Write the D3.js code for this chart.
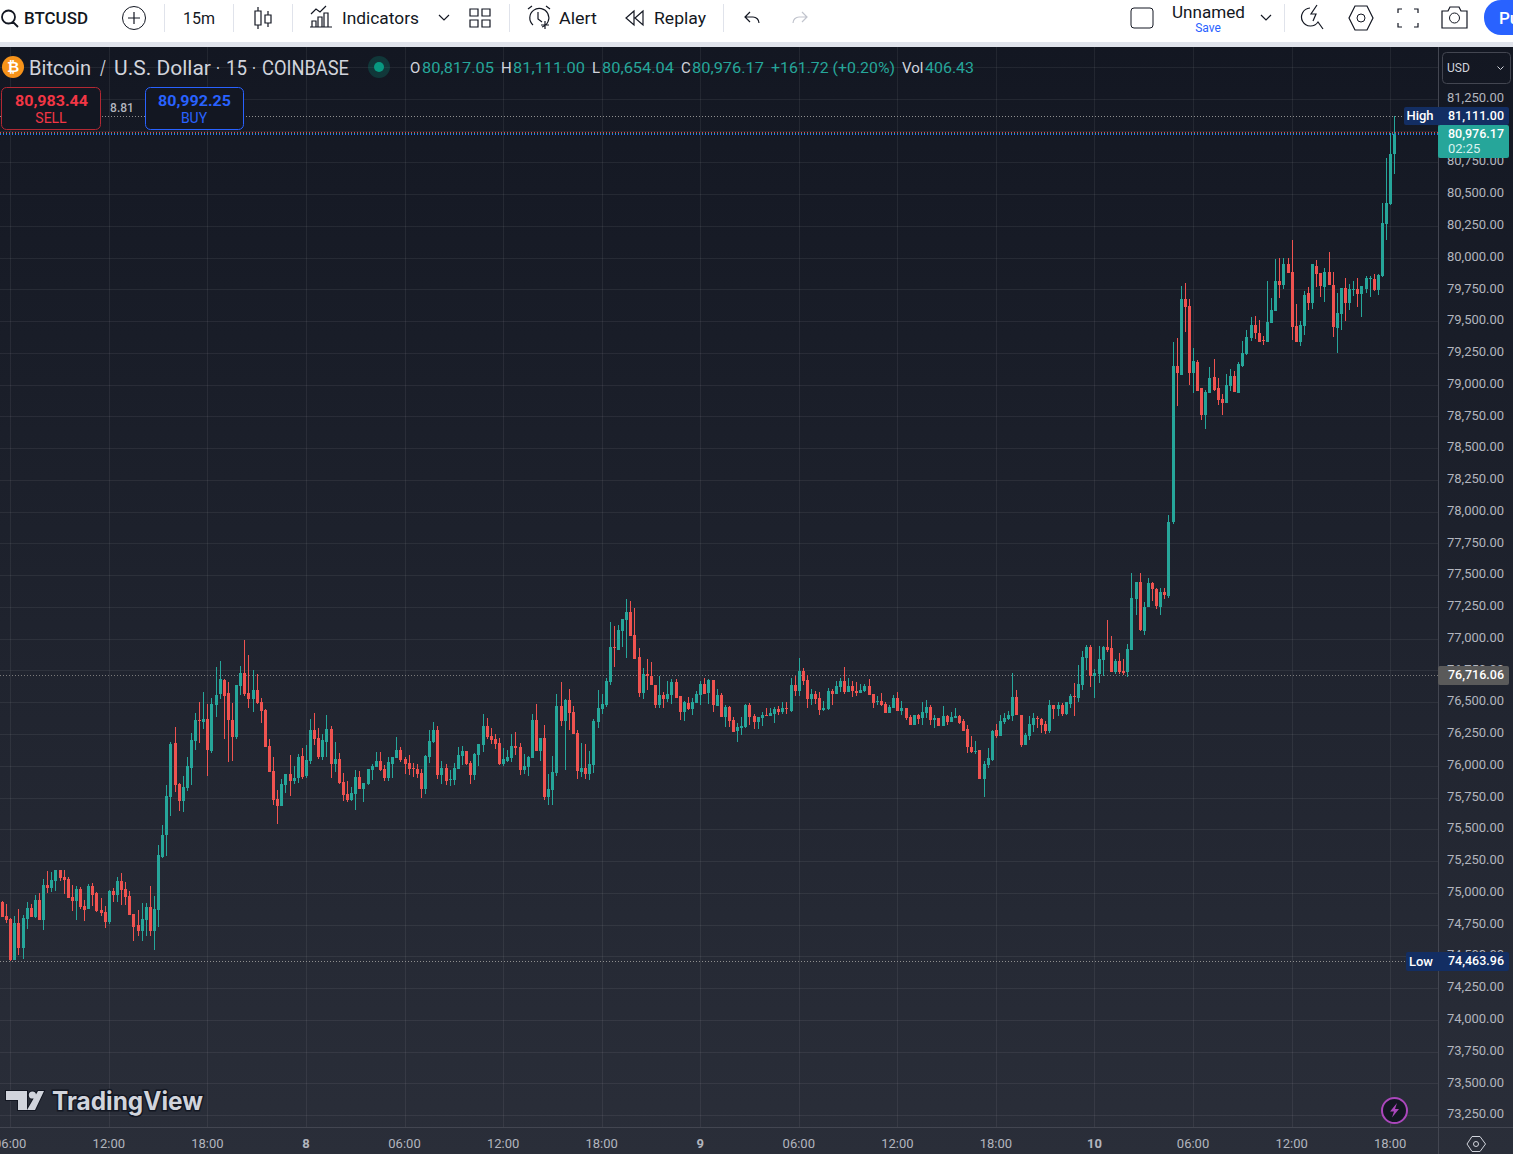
<!DOCTYPE html>
<html>
<head>
<meta charset="utf-8">
<title>BTCUSD 15m</title>
<script src="https://cdnjs.cloudflare.com/ajax/libs/d3/7.8.5/d3.min.js"></script>
<style>
  body { margin: 0; background: #fff; overflow: hidden; }
  text { font-family: Roboto, sans-serif; }
</style>
</head>
<body>
<script>
// candles, 15 minutes each, first one is 05:30
var opens = [74927,74817,74793,74473,74762,74565,74793,74880,74809,74943,
74785,75061,75037,75092,75179,75124,75108,74966,74935,75029,
74895,74872,75053,74998,74864,74848,74770,75014,74982,75092,
75029,74974,74832,74746,74699,74785,74888,74699,74864,75281,
75454,75754,76179,75856,75722,75824,75982,76194,76360,76344,
76368,76116,76478,76564,76675,76572,76360,76226,76627,76730,
76572,76525,76596,76501,76438,76155,75958,75738,75683,75848,
75935,75879,75903,76076,75919,76037,76281,76218,76068,76186,
76289,76013,76053,75872,75777,75730,75777,75911,75816,75856,
75966,75990,76037,75974,75903,76013,76061,76123,76053,76021,
75982,75974,75942,75816,76068,76186,76281,75927,75982,75887,
75887,75974,76076,76116,76021,75927,76084,76163,76312,76234,
76210,76179,76013,76037,76061,76155,76147,75966,75990,76061,
76360,76116,76218,75753,75809,75942,76470,76352,76517,76423,
76257,75950,75982,75935,76005,76344,76446,76478,76659,76934,
76911,77060,77147,77210,77029,76856,76572,76722,76706,76635,
76478,76556,76525,76556,76659,76549,76423,76493,76446,76493,
76556,76643,76572,76675,76470,76556,76383,76462,76360,76273,
76297,76305,76478,76391,76344,76375,76399,76391,76407,76446,
76423,76454,76430,76635,76588,76745,76675,76525,76564,76533,
76438,76446,76588,76564,76619,76667,76580,76627,76588,76572,
76588,76627,76564,76501,76509,76485,76415,76454,76533,76430,
76454,76383,76320,76399,76375,76415,76462,76359,76375,76312,
76391,76344,76375,76391,76352,76289,76147,76108,76123,75895,
76005,76045,76281,76234,76344,76367,76391,76541,76399,76163,
76234,76320,76375,76367,76328,76273,76478,76446,76478,76407,
76485,76548,76533,76635,76848,76934,76706,76722,76832,76934,
76926,76737,76824,76745,76737,76911,77312,77446,77060,77249,
77438,77391,77249,77367,77336,77918,79146,79075,79673,79618,
79091,79178,78973,78760,78934,79059,78973,78886,78855,78989,
79067,78934,79146,79240,79366,79469,79406,79351,79335,79485,
79579,79815,79784,79949,79886,79461,79335,79461,79721,79642,
79933,79878,79768,79886,79784,79445,79555,79760,79642,79744,
79752,79713,79752,79831,79831,79744,79855,80264,80421,80817.05];

var highs = [74935,74911,74801,74817,74872,74825,74927,74911,74982,74998,
75108,75171,75163,75179,75179,75179,75124,75061,75053,75045,
74943,75069,75077,75006,74958,74895,75021,75037,75124,75155,
75084,75014,74832,74864,74919,74919,75053,74974,75376,75533,
75848,76187,76305,75864,75919,76068,76257,76415,76501,76580,
76486,76533,76777,76824,76682,76659,76494,76635,76785,76989,
76871,76753,76722,76533,76446,76210,76068,75809,75895,75935,
76084,75998,76092,76139,76163,76368,76415,76297,76249,76399,
76312,76186,76100,75942,75879,75832,75966,75958,75864,75974,
76013,76108,76108,76005,76068,76068,76226,76147,76068,76084,
76021,76013,75974,76084,76281,76344,76312,76037,76013,75966,
76021,76147,76155,76116,76037,76100,76171,76407,76375,76297,
76249,76218,76139,76123,76249,76265,76179,76092,76076,76407,
76486,76218,76320,75935,76076,76564,76659,76525,76604,76470,
76281,76179,76171,76116,76368,76596,76564,76690,77131,77100,
77107,77155,77312,77296,77241,76926,76769,76840,76816,76635,
76706,76580,76667,76682,76682,76549,76509,76541,76533,76588,
76667,76690,76682,76675,76604,76572,76478,76470,76383,76336,
76383,76486,76493,76407,76383,76423,76454,76454,76462,76470,
76501,76501,76690,76706,76848,76769,76714,76604,76588,76580,
76509,76612,76604,76667,76690,76777,76690,76667,76659,76643,
76643,76682,76564,76548,76572,76501,76478,76556,76580,76509,
76454,76399,76399,76407,76501,76517,76478,76399,76375,76470,
76399,76422,76454,76399,76367,76320,76234,76194,76123,76037,
76139,76281,76328,76399,76415,76430,76729,76596,76399,76257,
76391,76415,76391,76375,76352,76517,76478,76501,76493,76501,
76564,76651,76792,76903,76950,76950,76761,76942,76942,77147,
77021,76840,76887,76840,76958,77517,77446,77517,77288,77477,
77446,77399,77399,77399,77972,79335,79366,79776,79799,79673,
79288,79193,78973,78957,79138,79201,79052,78926,79083,79122,
79107,79178,79343,79429,79532,79540,79508,79382,79815,79681,
79988,79996,79996,79996,80138,79634,79500,79736,79768,79949,
79980,79878,79918,80043,79886,79721,79760,79839,79792,79815,
79839,79776,79855,79855,79870,79870,80429,80783,80980,81111];

var lows = [74812,74764,74464,74473,74510,74481,74714,74809,74801,74785,
74707,74998,75006,75014,75092,74990,74958,74856,74785,74872,
74777,74872,74895,74848,74817,74722,74754,74927,74927,74903,
74903,74825,74620,74659,74620,74659,74659,74549,74730,75273,
75289,75604,75793,75643,75635,75801,75848,76124,76179,76289,
75919,76100,76383,76525,76210,76029,76037,76210,76556,76549,
76454,76423,76486,76336,76147,75950,75691,75541,75683,75785,
75761,75856,75864,75895,75903,76013,76163,76053,76045,76068,
75903,75950,75856,75722,75714,75722,75651,75816,75714,75848,
75887,75990,75958,75879,75879,75903,76061,76029,75935,75927,
75911,75903,75746,75777,76021,76179,75895,75856,75848,75840,
75848,75974,76005,76005,75856,75887,75998,76108,76210,76171,
76131,76005,75998,76029,76029,76084,75927,75935,75919,76061,
76116,76037,75730,75691,75691,75919,76312,75966,76281,76249,
75895,75911,75895,75887,75942,76297,76407,76462,76635,76777,
76911,76934,76848,77021,76840,76541,76525,76596,76635,76454,
76454,76454,76501,76486,76533,76360,76352,76438,76399,76493,
76478,76564,76486,76423,76470,76383,76305,76305,76265,76186,
76242,76297,76320,76289,76289,76312,76391,76391,76336,76399,
76407,76407,76423,76549,76549,76635,76454,76478,76486,76399,
76430,76438,76478,76564,76580,76564,76580,76541,76549,76572,
76580,76556,76454,76478,76470,76415,76415,76454,76430,76399,
76359,76320,76320,76328,76320,76375,76320,76297,76312,76312,
76320,76344,76375,76328,76273,76100,76100,76092,75895,75753,
75982,76037,76218,76234,76328,76359,76352,76399,76147,76163,
76202,76265,76297,76257,76249,76257,76367,76391,76391,76399,
76454,76391,76501,76596,76753,76619,76533,76651,76706,76895,
76737,76722,76722,76714,76698,76911,77186,77060,77029,77249,
77296,77233,77186,77312,77320,77900,78831,79075,79414,78996,
78934,78949,78721,78650,78934,78949,78839,78760,78855,78949,
78941,78934,79138,79233,79343,79359,79335,79311,79335,79485,
79579,79681,79752,79878,79351,79335,79303,79390,79587,79595,
79768,79689,79650,79784,79374,79248,79429,79500,79587,79697,
79610,79532,79721,79689,79736,79705,79847,80138,80413,80654.04];

var closes = [74812,74785,74470,74762,74565,74801,74880,74809,74943,74785,
75061,75037,75100,75179,75116,75100,74958,74935,75029,74888,
74864,75053,74982,74856,74840,74770,75014,74982,75092,75021,
74966,74825,74730,74699,74793,74888,74699,74872,75297,75454,
75761,76171,75848,75722,75832,75998,76202,76360,76352,76368,
76124,76486,76556,76682,76549,76360,76226,76635,76730,76564,
76525,76596,76494,76431,76147,75950,75730,75683,75856,75935,
75879,75903,76068,75911,76045,76281,76210,76068,76202,76289,
76013,76053,75864,75769,75730,75785,75911,75816,75864,75974,
75998,76037,75966,75903,76029,76068,76123,76045,76013,75974,
75974,75935,75816,76076,76194,76281,75927,75982,75879,75895,
75982,76084,76116,76013,75927,76092,76171,76312,76226,76202,
76171,76013,76053,76068,76155,76139,75966,75998,76068,76360,
76116,76218,75753,75816,75950,76470,76352,76517,76415,76249,
75958,75982,75935,76013,76352,76454,76486,76667,76934,76926,
77068,77155,77210,77021,76842,76572,76722,76706,76635,76478,
76556,76525,76564,76659,76533,76423,76501,76446,76501,76564,
76643,76564,76675,76478,76556,76383,76462,76352,76265,76305,
76312,76478,76383,76344,76383,76399,76391,76415,76446,76423,
76454,76446,76635,76588,76745,76667,76525,76564,76525,76438,
76454,76588,76564,76627,76667,76580,76627,76588,76572,76596,
76627,76556,76493,76509,76478,76415,76462,76533,76430,76454,
76375,76320,76399,76367,76422,76462,76359,76375,76312,76391,
76344,76383,76391,76336,76273,76147,76108,76115,75895,76013,
76060,76273,76234,76352,76375,76399,76541,76399,76163,76241,
76328,76375,76367,76320,76273,76478,76446,76478,76407,76501,
76548,76541,76643,76855,76934,76706,76729,76840,76934,76911,
76737,76824,76737,76729,76918,77320,77446,77068,77249,77438,
77391,77257,77367,77343,77918,79146,79091,79673,79610,79091,
79185,78949,78760,78941,79052,78957,78878,78855,78996,79067,
78941,79162,79248,79374,79469,79406,79335,79343,79492,79587,
79815,79784,79949,79878,79453,79335,79469,79705,79642,79949,
79870,79776,79886,79784,79453,79563,79760,79642,79752,79752,
79713,79776,79839,79839,79744,79862,80272,80429,80815,80976.17];

var priceTicks = [73250,73500,73750,74000,74250,74500,74750,75000,75250,75500,75750,76000,76250,76500,76750,
  77000,77250,77500,77750,78000,78250,78500,78750,79000,79250,79500,79750,80000,80250,80500,80750,81000,81250];
var timeTicks = [2,26,50,74,98,122,146,170,194,218,242,266,290,314,338];
var timeLabels = ['06:00','12:00','18:00','8','06:00','12:00','18:00','9','06:00','12:00','18:00','10','06:00','12:00','18:00'];

var up = '#26a69a', down = '#ef5350';
var width = 1513, height = 1154;
var plotRight = 1438, plotBottom = 1127;

var svg = d3.select('body').append('svg').attr('width', width).attr('height', height).style('display', 'block');

var x = d3.scaleLinear().domain([0, 339]).range([2.52, 2.52 + 4.107 * 339]);
var y = d3.scaleLinear().domain([74500, 80750]).range([956.3, 162.3]);
var px = function(i){ return Math.floor(x(i)); };
var py = function(v){ return Math.round(y(v)); };

var grad = svg.append('defs').append('linearGradient').attr('id', 'bg').attr('x1', 0).attr('x2', 0).attr('y1', 0).attr('y2', 1);
grad.append('stop').attr('offset', '0%').attr('stop-color', '#131722');
grad.append('stop').attr('offset', '100%').attr('stop-color', '#2a2e39');
svg.append('clipPath').attr('id', 'plot').append('rect').attr('width', plotRight).attr('height', height);

svg.append('rect').attr('y', 47).attr('width', width).attr('height', height - 47).attr('fill', 'url(#bg)');

// grid, comes from the axes ticks
svg.append('g').selectAll('rect').data(priceTicks.concat([81500])).enter().append('rect')
  .attr('x', 0).attr('y', function(d){ return py(d); }).attr('width', plotRight).attr('height', 1)
  .attr('fill', '#f2f2f2').attr('fill-opacity', 0.07);
svg.append('g').selectAll('rect').data(timeTicks).enter().append('rect')
  .attr('x', function(d){ return px(d); }).attr('y', 47).attr('width', 1).attr('height', plotBottom - 47)
  .attr('fill', '#f2f2f2').attr('fill-opacity', 0.07);

// dotted price lines
var dotted = function(price, x0, x1, color, dy){
  svg.append('line').attr('x1', x0).attr('x2', x1)
    .attr('y1', py(price) + 0.5 + (dy || 0)).attr('y2', py(price) + 0.5 + (dy || 0))
    .attr('stroke', color).attr('stroke-dasharray', '1 2');
};
dotted(81111, 0, 1404, '#8f8f8f');
dotted(76716.06, 0, plotRight, '#7a7a7a');
dotted(74463.96, 0, 1406, '#8f8f8f');

// candles
var candles = d3.range(opens.length).map(function(i){
  return { i: i, o: opens[i], h: highs[i], l: lows[i], c: closes[i] };
});
var marks = svg.append('g').attr('clip-path', 'url(#plot)').attr('shape-rendering', 'crispEdges');
var color = function(d){ return d.c >= d.o ? up : down; };
marks.selectAll('.wick').data(candles).enter().append('rect').attr('class', 'wick')
  .attr('x', function(d){ return px(d.i); })
  .attr('y', function(d){ return py(d.h); })
  .attr('width', 1)
  .attr('height', function(d){ return Math.max(1, py(d.l) - py(d.h)); })
  .attr('fill', color);
marks.selectAll('.body').data(candles).enter().append('rect').attr('class', 'body')
  .attr('x', function(d){ return px(d.i) - 1; })
  .attr('y', function(d){ return py(Math.max(d.o, d.c)); })
  .attr('width', 3)
  .attr('height', function(d){ return Math.max(1, py(Math.min(d.o, d.c)) - py(Math.max(d.o, d.c))); })
  .attr('fill', color);

// last price, sell and buy lines sit on top of each other
dotted(80976.17, 0, plotRight, '#f23645', -2);
dotted(80976.17, 0, plotRight, '#26a69a', -1);
dotted(80976.17, 0, plotRight, '#2962ff', 0);

// axis panels
svg.append('rect').attr('x', plotRight).attr('y', 47).attr('width', 1).attr('height', height - 47).attr('fill', '#434651');
svg.append('rect').attr('x', 0).attr('y', plotBottom).attr('width', width).attr('height', 1).attr('fill', '#434651');

var priceAxis = d3.axisRight(y).tickValues(priceTicks).tickSize(0).tickPadding(9).tickFormat(d3.format(',.2f'));
var axR = svg.append('g').attr('transform', 'translate(' + plotRight + ',-1.5)').call(priceAxis);
axR.select('.domain').remove();
axR.selectAll('text').attr('fill', '#b2b5be').style('font-size', '13px').style('font-family', 'Roboto');

var timeAxis = d3.axisBottom(x).tickValues(timeTicks).tickSize(0).tickPadding(12)
  .tickFormat(function(d, i){ return timeLabels[i]; });
var axB = svg.append('g').attr('transform', 'translate(-1,' + plotBottom + ')').call(timeAxis);
axB.select('.domain').remove();
axB.selectAll('text').attr('fill', '#b2b5be').style('font-size', '13px').style('font-family', 'Roboto')
  .style('font-weight', function(d, i){ return timeLabels[i].length < 3 ? 700 : 400; });

// text helper
var label = function(tx, ty, str, size, fill, weight, anchor){
  return svg.append('text').attr('x', tx).attr('y', ty).text(str)
    .attr('font-size', size).attr('fill', fill).attr('font-weight', weight || 400)
    .attr('text-anchor', anchor || 'start');
};
var fit = function(sel, w){ return sel.attr('textLength', w).attr('lengthAdjust', 'spacingAndGlyphs'); };

// tags on the price axis
var tag = function(x0, y0, w, h, fill){
  svg.append('rect').attr('x', x0).attr('y', y0).attr('width', w).attr('height', h).attr('rx', 2).attr('fill', fill);
};
tag(1404, 107, 105, 18, '#132e63');
label(1420, 120, 'High', 13, '#fff', 500, 'middle');
fit(label(1448, 120, '81,111.00', 13, '#fff', 500), 56);
tag(1438, 125, 71, 33, up);
fit(label(1448, 138, '80,976.17', 13, '#fff', 500), 56);
label(1448, 153, '02:25', 13, '#d9f2ef');
tag(1438, 666, 71, 19, '#5a5a5a');
fit(label(1448, 679, '76,716.06', 13, '#fff', 500), 56);
tag(1406, 952, 103, 19, '#132e63');
label(1421, 966, 'Low', 13, '#fff', 500, 'middle');
fit(label(1448, 965, '74,463.96', 13, '#fff', 500), 56);

// legend
svg.append('circle').attr('cx', 13).attr('cy', 67).attr('r', 11).attr('fill', '#f7931a');
label(13, 72, '₿', 15, '#fff', 700, 'middle');
var titleParts = [[29, 'Bitcoin', 62], [100, '/', 6], [114, 'U.S. Dollar', 97], [216, '·', 4], [226, '15', 21], [252, '·', 4], [262, 'COINBASE', 87]];
titleParts.forEach(function(k){ fit(label(k[0], 75, k[1], 21, '#d1d4dc'), k[2]); });
svg.append('circle').attr('cx', 379).attr('cy', 67).attr('r', 11).attr('fill', '#089981').attr('fill-opacity', 0.25);
svg.append('circle').attr('cx', 379).attr('cy', 67).attr('r', 5).attr('fill', '#089981');
var legendKeys = [[410, 'O'], [501, 'H'], [592, 'L'], [681, 'C'], [902, 'Vol']];
legendKeys.forEach(function(k){ label(k[0], 73, k[1], 15, '#d1d4dc'); });
var legendVals = [[422, '80,817.05', 72], [513, '81,111.00', 72], [602, '80,654.04', 72], [692, '80,976.17', 72], [771, '+161.72 (+0.20%)', 124], [925, '406.43', 49]];
legendVals.forEach(function(k){ fit(label(k[0], 73, k[1], 15, up), k[2]); });

// sell / buy
svg.append('rect').attr('x', 1.5).attr('y', 87.5).attr('width', 99).attr('height', 42).attr('rx', 5).attr('fill', '#131722').attr('stroke', '#b22833');
fit(label(15, 106, '80,983.44', 15, '#f23645', 700), 73);
label(51, 123, 'SELL', 14, '#f23645', 400, 'middle');
label(122, 112, '8.81', 12, '#b2b5be', 500, 'middle');
svg.append('rect').attr('x', 145.5).attr('y', 87.5).attr('width', 98).attr('height', 42).attr('rx', 5).attr('fill', '#131722').attr('stroke', '#2962ff');
fit(label(158, 106, '80,992.25', 15, '#2962ff', 700), 73);
label(194, 123, 'BUY', 14, '#2962ff', 400, 'middle');

// currency box
svg.append('rect').attr('x', 1442.5).attr('y', 52.5).attr('width', 68).attr('height', 31).attr('rx', 4).attr('fill', 'none').attr('stroke', '#434651');
label(1447, 72, 'USD', 12, '#d1d4dc');
svg.append('path').attr('d', 'M1497.5 66.5l3 3 3-3').attr('fill', 'none').attr('stroke', '#d1d4dc');

// watermark
svg.append('path').attr('d', 'M6 1091h21v19h-9v-10H6zM38 1091h6l-9 19h-8zM36 1095a3.6 3.6 0 1 1-7.2 0a3.6 3.6 0 1 1 7.2 0z')
  .attr('fill', '#d1d4dc').attr('stroke', '#131722').attr('stroke-width', 2).attr('paint-order', 'stroke');
fit(label(52, 1110, 'TradingView', 25, '#d1d4dc', 700), 151).style('font-family', 'Inter')
  .attr('stroke', '#131722').attr('stroke-width', 3).attr('paint-order', 'stroke');

// bolt button and gear
svg.append('circle').attr('cx', 1394.5).attr('cy', 1110.5).attr('r', 12.5).attr('fill', '#131722').attr('stroke', '#ab47bc').attr('stroke-width', 2);
svg.append('path').attr('d', 'M1397 1103l-7 8.5h4l-2 6 7-8.5h-4z').attr('fill', '#ab47bc');
svg.append('path').attr('d', 'M1472 1136.5h8l5.5 7.5-5.5 7.5h-8l-5 -7.5z').attr('fill', 'none').attr('stroke', '#d1d4dc');
svg.append('circle').attr('cx', 1476).attr('cy', 1144).attr('r', 2.5).attr('fill', 'none').attr('stroke', '#d1d4dc');

// toolbar
svg.append('rect').attr('width', width).attr('height', 42).attr('fill', '#fff');
svg.append('rect').attr('y', 42).attr('width', width).attr('height', 5).attr('fill', '#e0e3eb');
var ink = '#131722';
[164, 233, 292, 509, 723, 1284].forEach(function(sx){
  svg.append('rect').attr('x', sx).attr('y', 4).attr('width', 1).attr('height', 28).attr('fill', '#e0e3eb');
});
fit(label(24, 24, 'BTCUSD', 17, ink, 500), 64);
fit(label(183, 24, '15m', 17, ink), 32);
fit(label(342, 24, 'Indicators', 17, ink), 77);
fit(label(559, 24, 'Alert', 17, ink), 38);
fit(label(654, 24, 'Replay', 17, ink), 52);
fit(label(1172, 18, 'Unnamed', 17, ink), 73);
label(1208, 32, 'Save', 12, '#2962ff', 400, 'middle');

var stroke = function(d, col){
  return svg.append('path').attr('d', d).attr('fill', 'none').attr('stroke', col || ink).attr('stroke-width', 1.2);
};
stroke('M2 17a6.5 6.5 0 1 0 13 0a6.5 6.5 0 1 0-13 0M13 22l5 5').attr('stroke-width', 1.8);
svg.append('circle').attr('cx', 134).attr('cy', 18).attr('r', 11.5).attr('fill', 'none').attr('stroke', ink);
stroke('M128 18h12M134 12v12');
stroke('M258 7v4M258 25v4M255 11h6v14h-6zM268 11v4M268 23v4M265 15h6v8h-6z');
stroke('M312 27v-6h4v6zM318 27v-10h4v10zM324 27v-14h4v14zM310 27h22M311 14l5-5 4 3 6-6');
stroke('M439 15l5 5 5-5');
stroke('M470 9h8v7h-8zM482 9h8v7h-8zM470 20h8v7h-8zM482 20h8v7h-8z');
stroke('M528 9l4-3M546 6l4 3M538 12v7l4 3M549 25h-8M545 21v8M533 25a9.5 9.5 0 1 1 9 2');
stroke('M634 11l-8 7 8 7zM643 11l-8 7 8 7z');
stroke('M750 12l-5 5 5 5M745 17h8a6 6 0 0 1 6 6');
stroke('M802 12l5 5-5 5M807 17h-8a6 6 0 0 0-6 6', '#c1c4cd');
svg.append('rect').attr('x', 1131).attr('y', 8).attr('width', 22).attr('height', 20).attr('rx', 3).attr('fill', 'none').attr('stroke', ink);
stroke('M1261 15l5 5 5-5');
stroke('M1317 5l-6 9h5l-3 7M1310 8a9 9 0 1 0 8 14l5 7');
stroke('M1355 6h12l6 12-6 12h-12l-6-12z');
svg.append('circle').attr('cx', 1361).attr('cy', 18).attr('r', 4).attr('fill', 'none').attr('stroke', ink);
stroke('M1398 13v-4h4M1414 9h4v4M1418 23v4h-4M1402 27h-4v-4');
stroke('M1442 11h6l2-4h9l2 4h6v17h-25z');
svg.append('circle').attr('cx', 1454.5).attr('cy', 18).attr('r', 5).attr('fill', 'none').attr('stroke', ink);
svg.append('rect').attr('x', 1484).attr('y', 0).attr('width', 60).attr('height', 35).attr('rx', 17).attr('fill', '#2962ff');
label(1499, 24, 'Pu', 17, '#fff', 500);
</script>
</body>
</html>
